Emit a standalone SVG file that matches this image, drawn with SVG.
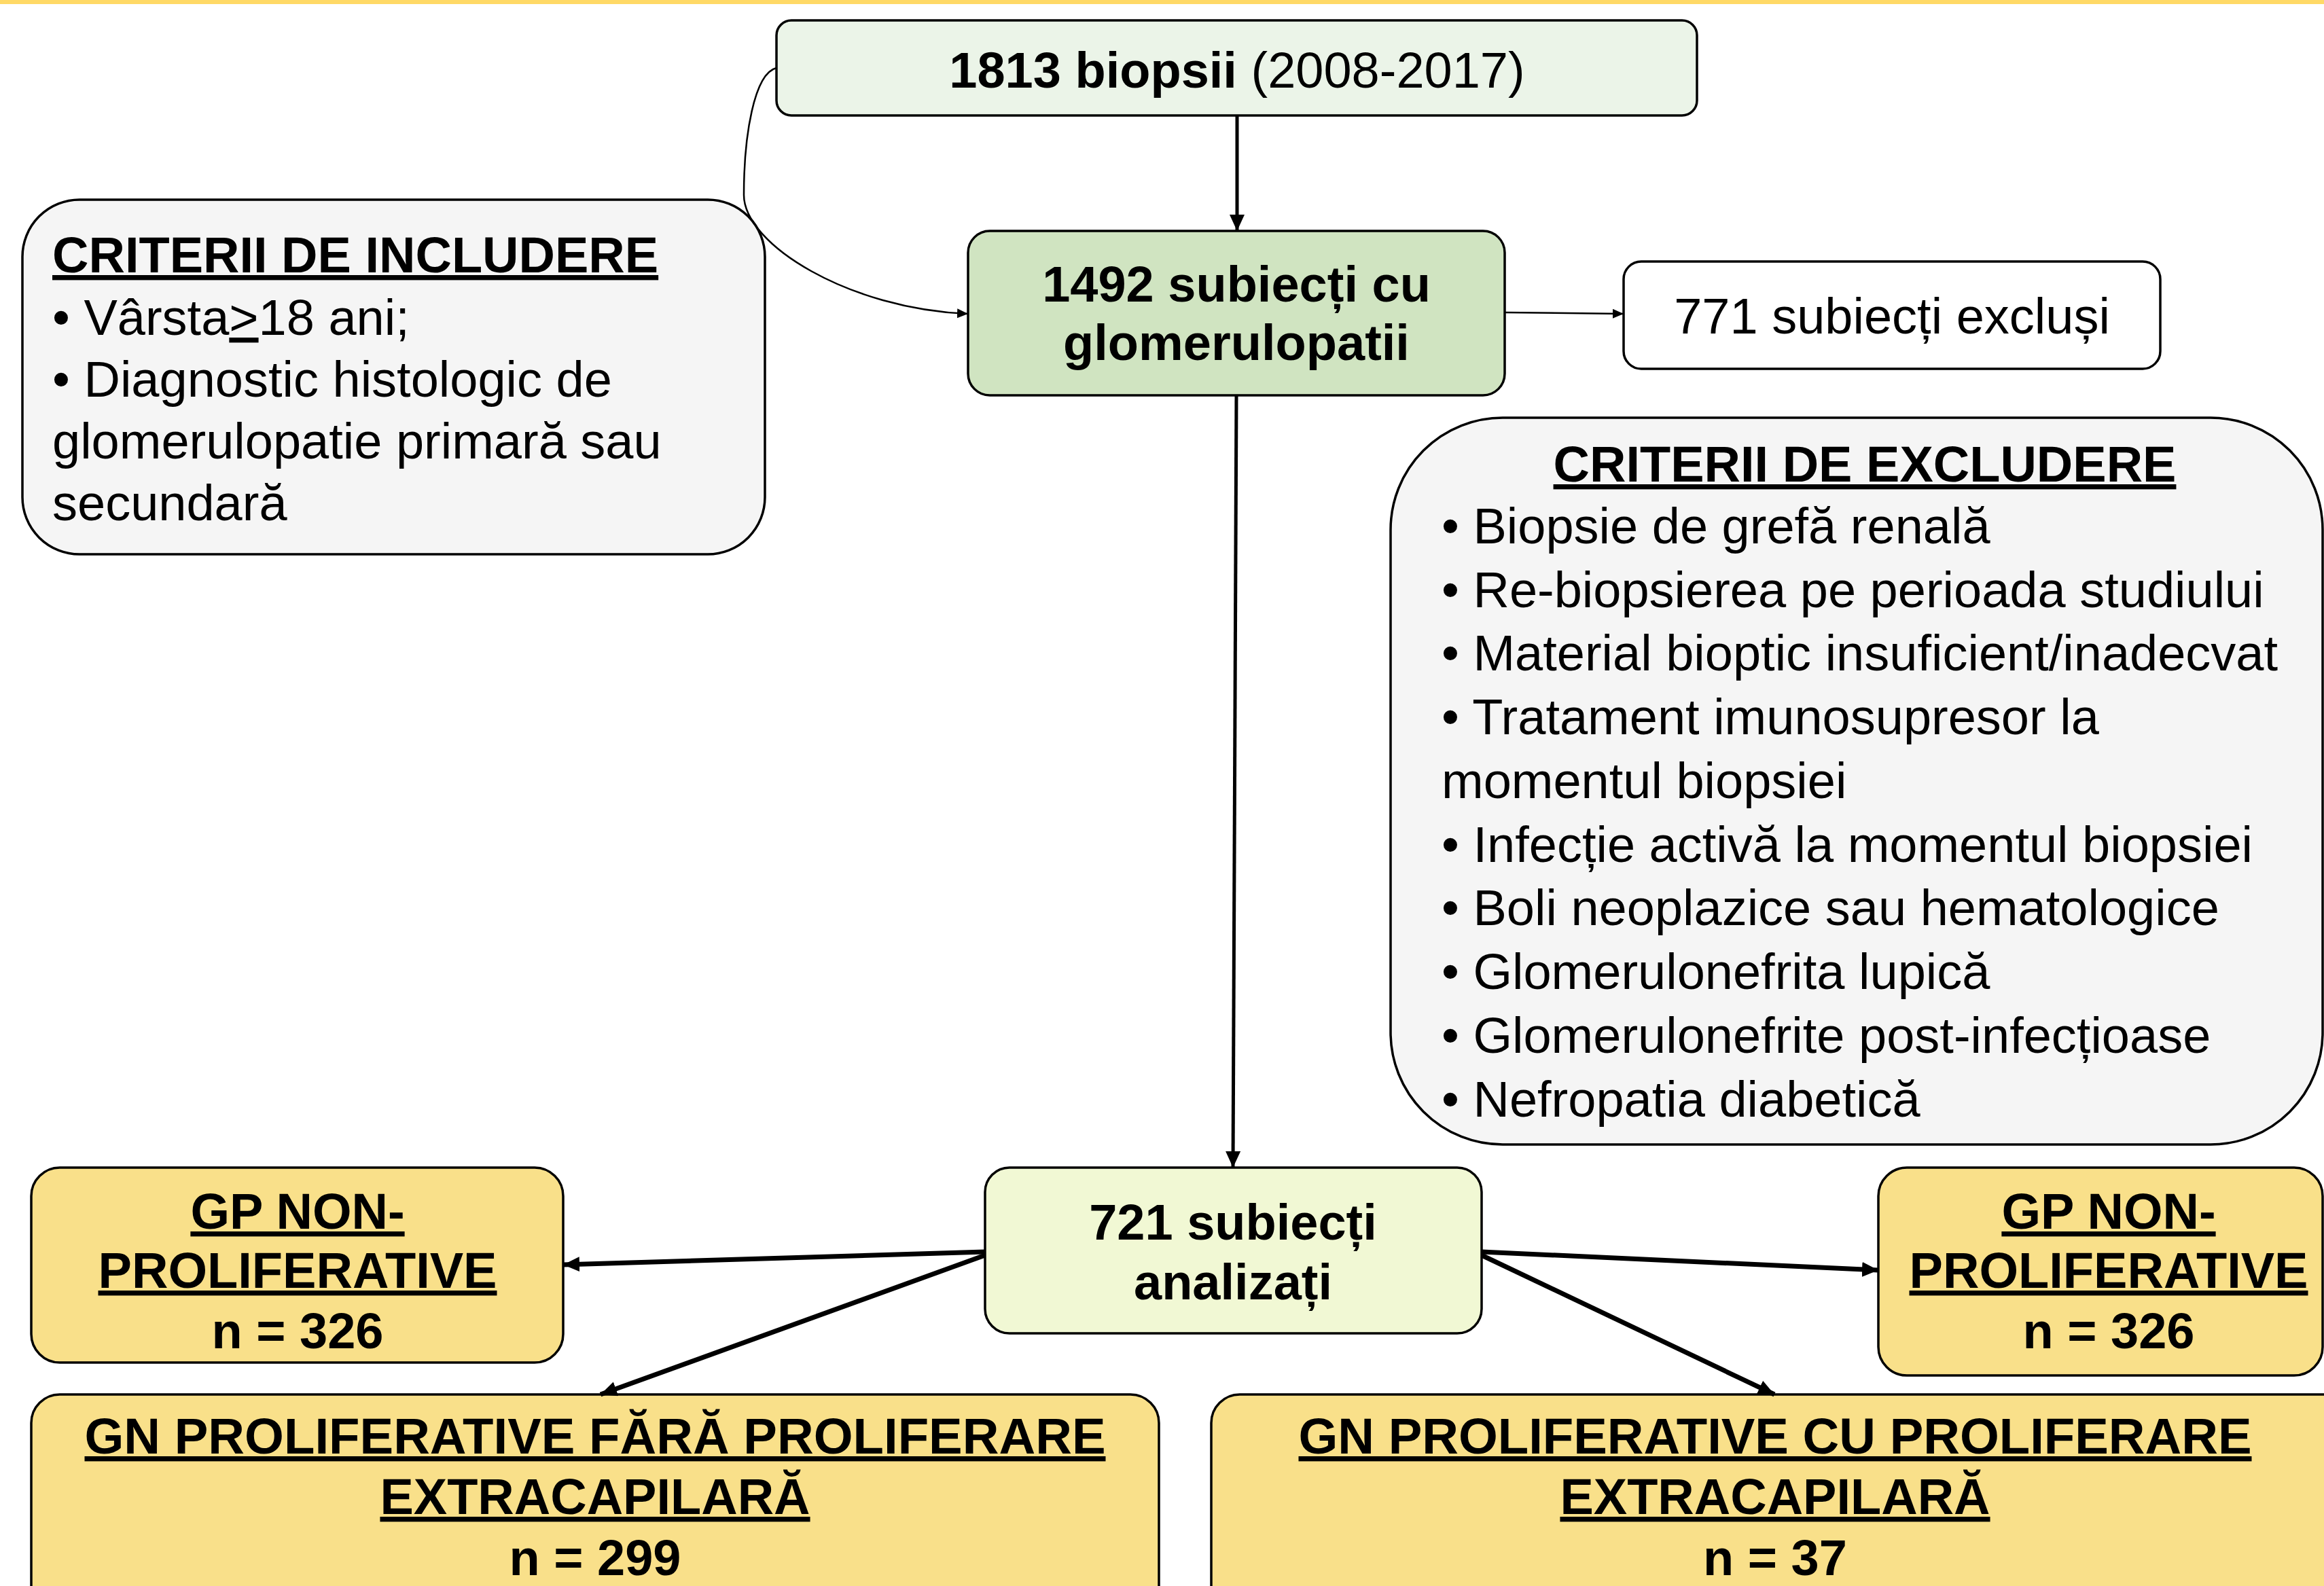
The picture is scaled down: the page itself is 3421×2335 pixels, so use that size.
<svg xmlns="http://www.w3.org/2000/svg" width="3421" height="2335" viewBox="0 0 3421 2335">
<defs>
<style>
text{font-family:"Liberation Sans",Arial,sans-serif;font-size:74px;fill:#000}
.b{font-weight:bold}
.u{text-decoration:underline}
.m{text-anchor:middle}
.box{stroke:#000;stroke-width:3.5}
.con{fill:none;stroke:#000}
</style>
<marker id="ah" markerUnits="userSpaceOnUse" markerWidth="26" markerHeight="24" refX="24" refY="11" orient="auto">
<path d="M0,0 L24,11 L0,22 Z" fill="#000"/>
</marker>
<marker id="as" markerUnits="userSpaceOnUse" markerWidth="18" markerHeight="16" refX="16" refY="7" orient="auto">
<path d="M0,0 L16,7 L0,14 Z" fill="#000"/>
</marker>
</defs>
<rect width="3421" height="2335" fill="#fff"/>
<rect x="0" y="0" width="3421" height="6" fill="#FFD966"/>

<g id="n1813">
<rect class="box" x="1143" y="30" width="1355" height="140" rx="22" fill="#EBF4E8"/>
<text class="m" x="1821" y="129"><tspan class="b">1813 biopsii</tspan> (2008-2017)</text>
</g>

<g id="n1492">
<rect class="box" x="1425" y="340" width="790" height="242" rx="32" fill="#D0E4C1"/>
<text class="m b" x="1820" y="444">1492 subiecți cu</text>
<text class="m b" x="1820" y="530">glomerulopatii</text>
</g>

<g id="n771">
<rect class="box" x="2390" y="385" width="790" height="158" rx="26" fill="#fff"/>
<text class="m" x="2785" y="491">771 subiecți excluși</text>
</g>

<g id="incl">
<rect class="box" x="33" y="294" width="1093" height="522" rx="84" fill="#F5F5F5"/>
<text class="b u" x="77" y="401">CRITERII DE INCLUDERE</text>
<text x="77" y="493">• Vârsta<tspan class="u">&gt;</tspan>18 ani;</text>
<text x="77" y="584">• Diagnostic histologic de</text>
<text x="77" y="675">glomerulopatie primară sau</text>
<text x="77" y="766">secundară</text>
</g>

<g id="excl">
<rect class="box" x="2047" y="615" width="1372" height="1070" rx="165" fill="#F5F5F5"/>
<text class="m b u" x="2745" y="709">CRITERII DE EXCLUDERE</text>
<text x="2122" y="800">• Biopsie de grefă renală</text>
<text x="2122" y="894">• Re-biopsierea pe perioada studiului</text>
<text x="2122" y="987">• Material bioptic insuficient/inadecvat</text>
<text x="2122" y="1081">• Tratament imunosupresor la</text>
<text x="2122" y="1175">momentul biopsiei</text>
<text x="2122" y="1269">• Infecție activă la momentul biopsiei</text>
<text x="2122" y="1362">• Boli neoplazice sau hematologice</text>
<text x="2122" y="1456">• Glomerulonefrita lupică</text>
<text x="2122" y="1550">• Glomerulonefrite post-infecțioase</text>
<text x="2122" y="1644">• Nefropatia diabetică</text>
</g>

<g id="n721">
<rect class="box" x="1450" y="1719" width="731" height="244" rx="36" fill="#F1F8D4"/>
<text class="m b" x="1815" y="1825">721 subiecți</text>
<text class="m b" x="1815" y="1913">analizați</text>
</g>

<g id="gpLeft">
<rect class="box" x="46" y="1719" width="783" height="287" rx="42" fill="#F9E08A"/>
<text class="m b u" x="438" y="1809">GP NON-</text>
<text class="m b u" x="438" y="1896" textLength="587" lengthAdjust="spacingAndGlyphs">PROLIFERATIVE</text>
<text class="m b" x="438" y="1985">n = 326</text>
</g>

<g id="gpRight">
<rect class="box" x="2765" y="1719" width="654" height="306" rx="42" fill="#F9E08A"/>
<text class="m b u" x="3104" y="1809">GP NON-</text>
<text class="m b u" x="3104" y="1896" textLength="587" lengthAdjust="spacingAndGlyphs">PROLIFERATIVE</text>
<text class="m b" x="3104" y="1985">n = 326</text>
</g>

<g id="gnLeft">
<rect class="box" x="46" y="2053" width="1660" height="360" rx="42" fill="#F9E08A"/>
<text class="m b u" x="876" y="2140" textLength="1503" lengthAdjust="spacingAndGlyphs">GN PROLIFERATIVE FĂRĂ PROLIFERARE</text>
<text class="m b u" x="876" y="2229">EXTRACAPILARĂ</text>
<text class="m b" x="876" y="2319">n = 299</text>
</g>

<g id="gnRight">
<rect class="box" x="1783" y="2053" width="1680" height="360" rx="42" fill="#F9E08A"/>
<text class="m b u" x="2613" y="2140" textLength="1403" lengthAdjust="spacingAndGlyphs">GN PROLIFERATIVE CU PROLIFERARE</text>
<text class="m b u" x="2613" y="2229">EXTRACAPILARĂ</text>
<text class="m b" x="2613" y="2319">n = 37</text>
</g>

<g id="connectors">
<path class="con" stroke-width="5" d="M1821,170 L1821,340" marker-end="url(#ah)"/>
<path class="con" stroke-width="2.5" d="M1143,100 C1110,108 1095,200 1095,287 C1095,360 1250,455 1425,462" marker-end="url(#as)"/>
<path class="con" stroke-width="2.5" d="M2215,460 L2390,462" marker-end="url(#as)"/>
<path class="con" stroke-width="5" d="M1820,582 L1815,1719" marker-end="url(#ah)"/>
<path class="con" stroke-width="7" d="M1450,1843 L829,1862" marker-end="url(#ah)"/>
<path class="con" stroke-width="7" d="M1450,1848 L884,2053" marker-end="url(#ah)"/>
<path class="con" stroke-width="7" d="M2181,1843 L2765,1870" marker-end="url(#ah)"/>
<path class="con" stroke-width="7" d="M2181,1848 L2612,2053" marker-end="url(#ah)"/>
</g>
</svg>
